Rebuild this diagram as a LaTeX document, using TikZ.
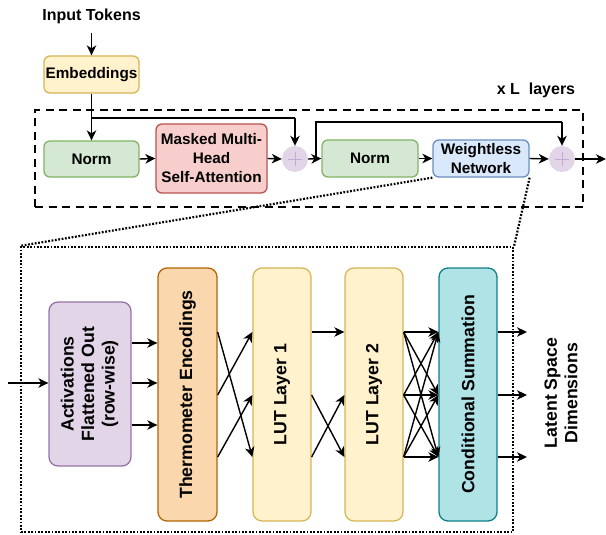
\documentclass[tikz,border=0pt]{standalone}
\usepackage{fontspec}
\setmainfont{Liberation Sans}
\usetikzlibrary{arrows.meta}
\definecolor{yfill}{HTML}{FFF2CC}\definecolor{ydraw}{HTML}{D6B656}
\definecolor{gfill}{HTML}{D5E8D4}\definecolor{gdraw}{HTML}{82B366}
\definecolor{rfill}{HTML}{F8CECC}\definecolor{rdraw}{HTML}{B85450}
\definecolor{bfill}{HTML}{DAE8FC}\definecolor{bdraw}{HTML}{6C8EBF}
\definecolor{pfill}{HTML}{E1D5E7}\definecolor{pdraw}{HTML}{9673A6}
\definecolor{ofill}{HTML}{FAD7AC}\definecolor{odraw}{HTML}{B46504}
\definecolor{tfill}{HTML}{B0E3E6}\definecolor{tdraw}{HTML}{0E8088}
\definecolor{plusline}{HTML}{C2AAD2}
\begin{document}
\begin{tikzpicture}[x=1pt,y=-1pt,
  topfont/.style={font=\fontsize{15.3}{19}\selectfont\bfseries},
  innfont/.style={font=\fontsize{17.7}{20.5}\selectfont\bfseries},
  box/.style={draw, rounded corners=6pt, line width=1.3pt, align=center, inner sep=0pt, topfont},
  tallbox/.style={draw, rounded corners=9pt, line width=1.3pt, align=center, inner sep=0pt, innfont,
     minimum width=58pt, minimum height=253pt},
  arr/.style={-{Stealth[length=10pt,width=9.5pt,inset=3pt]}, line width=1.4pt},
  plusnode/.style={circle, fill=pfill, minimum size=26pt, inner sep=0pt},
  plusmark/.style={draw=plusline, line width=0.7pt},
  dashframe/.style={draw, line width=2.4pt, dash pattern=on 8pt off 5.5pt},
  dotframe/.style={draw, line width=2.2pt, dash pattern=on 1.8pt off 1.6pt},
  label/.style={inner sep=0pt, align=center}
]
\useasboundingbox (0,0) rectangle (606,535);

% outer dashed frame
\node[dashframe, minimum width=548pt, minimum height=97pt, inner sep=0pt] (frame) at (309,158.5) {};
\node[label, font=\fontsize{16}{19}\selectfont\bfseries] (xl) at (536,90) {x L\ \ layers};

% top row
\node[label, font=\fontsize{16}{19}\selectfont\bfseries] (intok) at (91.5,16) {Input Tokens};
\coordinate (intokout) at (91.5,33);
\node[box, fill=yfill, draw=ydraw, minimum width=95pt, minimum height=37pt] (emb) at (91.5,74.5) {Embeddings};
\node[box, fill=gfill, draw=gdraw, minimum width=95pt, minimum height=36pt] (norm1) at (91.5,159) {Norm};
\node[box, fill=rfill, draw=rdraw, minimum width=111pt, minimum height=69pt] (mmhsa) at (211.5,158.5) {Masked Multi-\\Head\\Self-Attention};
\node[plusnode] (plus1) at (295,159) {};
\node[box, fill=gfill, draw=gdraw, minimum width=96pt, minimum height=37pt] (norm2) at (370,158.5) {Norm};
\node[box, fill=bfill, draw=bdraw, minimum width=96pt, minimum height=37pt] (wn) at (481,158.5) {Weightless\\Network};
\node[plusnode] (plus2) at (562,159) {};
\coordinate (out) at (606,159);

\foreach \p in {plus1,plus2}{
  \draw[plusmark] ([xshift=-7pt]\p.center) -- ([xshift=7pt]\p.center);
  \draw[plusmark] ([yshift=-7pt]\p.center) -- ([yshift=7pt]\p.center);
}

\coordinate (br1) at (91.5,118);
\coordinate (t1) at (295,118);
\coordinate (br2) at (316,159);
\coordinate (t2) at (316,122);
\coordinate (t3) at (562,122);

\draw[arr] (intokout) -- (emb.north);
\draw[arr] (emb.south) -- (norm1.north);
\draw[line width=1.4pt] (br1) -- (t1);
\draw[arr] (t1) -- (plus1.north);
\draw[arr] (norm1.east) -- (mmhsa.west);
\draw[arr] (mmhsa.east) -- (plus1.west);
\draw[arr] (plus1.east) -- (norm2.west);
\draw[line width=1.4pt] (br2) -- (t2) -- (t3);
\draw[arr] (t3) -- (plus2.north);
\draw[arr] (norm2.east) -- (wn.west);
\draw[arr] (wn.east) -- (plus2.west);
\draw[arr] (plus2.east) -- (out);

% zoom box
\node[dotframe, minimum width=492pt, minimum height=285pt, inner sep=0pt] (zoombox) at (267,389.5) {};
\draw[dotframe] (wn.south west) -- (zoombox.north west);
\draw[dotframe] (wn.south east) -- (zoombox.north east);

\node[tallbox, fill=pfill, draw=pdraw, minimum width=82pt, minimum height=164pt] (act) at (90,384)
  {\rotatebox{90}{\begin{tabular}{@{}c@{}}Activations\\Flattened Out\\(row-wise)\end{tabular}}};
\node[tallbox, fill=ofill, draw=odraw, minimum width=59pt] (thermo) at (187.5,394.5) {\rotatebox{90}{Thermometer Encodings}};
\node[tallbox, fill=yfill, draw=ydraw] (lut1) at (282,394.5) {\rotatebox{90}{LUT Layer 1}};
\node[tallbox, fill=yfill, draw=ydraw] (lut2) at (374,394.5) {\rotatebox{90}{LUT Layer 2}};
\node[tallbox, fill=tfill, draw=tdraw] (cs) at (468,394.5) {\rotatebox{90}{Conditional Summation}};
\node[label, innfont] (latent) at (563,393) {\rotatebox{90}{\begin{tabular}{@{}c@{}}Latent Space\\Dimensions\end{tabular}}};

\coordinate (inp) at (8,383);
\coordinate (y1) at (0,343);
\coordinate (y2) at (0,383);
\coordinate (y3) at (0,425);
\coordinate (la) at (0,332);
\coordinate (lb) at (0,395);
\coordinate (lc) at (0,457);
\coordinate (xo) at (527,0);

\draw[arr] (inp) -- (act.west |- y2);
\foreach \yy in {y1,y2,y3}{\draw[arr] (act.east |- \yy) -- (thermo.west |- \yy);}
\draw[arr] (thermo.east |- la) -- (lut1.west |- lc);
\draw[arr] (thermo.east |- lb) -- (lut1.west |- la);
\draw[arr] (thermo.east |- lc) -- (lut1.west |- lb);
\draw[arr] (lut1.east |- la) -- (lut2.west |- la);
\draw[arr] (lut1.east |- lb) -- (lut2.west |- lc);
\draw[arr] (lut1.east |- lc) -- (lut2.west |- lb);
\foreach \a in {la,lb,lc}{\foreach \b in {la,lb,lc}{\draw[arr] (lut2.east |- \a) -- (cs.west |- \b);}}
\foreach \a in {la,lb,lc}{\draw[arr] (cs.east |- \a) -- (xo |- \a);}
\end{tikzpicture}
\end{document}
